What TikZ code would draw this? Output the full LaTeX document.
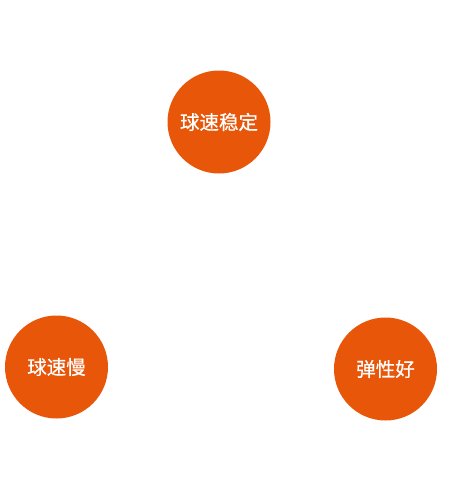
\documentclass[tikz,border=0pt]{standalone}
\usepackage{fontspec}
\newfontfamily\cjk[FakeBold=0.6]{Noto Sans CJK SC}
\definecolor{orangec}{HTML}{E8560A}
\begin{document}
\begin{tikzpicture}[x=1pt,y=-1pt,
  ball/.style={circle,fill=orangec,minimum size=103pt,inner sep=0pt,text=white,font=\cjk\fontsize{19.5}{19.5}\selectfont}]
\useasboundingbox (0,0) rectangle (450,490);
\node[ball] (top) at (219,122) {球速稳定};
\node[ball] (left) at (56.5,367) {球速慢};
\node[ball] (right) at (385.5,369) {弹性好};
\end{tikzpicture}
\end{document}
